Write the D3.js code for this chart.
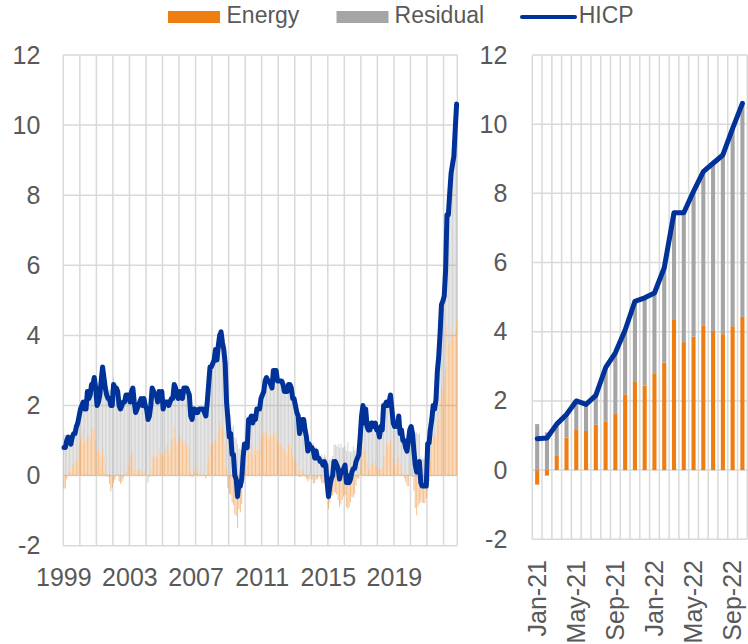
<!DOCTYPE html>
<html><head><meta charset="utf-8">
<script src="https://cdn.jsdelivr.net/npm/d3@7"></script>
<style>
html,body{margin:0;padding:0;background:#fff;}
svg text{font-family:"Liberation Sans",Arial,sans-serif;fill:#595959;}
</style></head><body>
<svg id="chart" width="748" height="644"></svg>
<script>
// Monthly, Jan-1999 .. Oct-2022 (annual % change, HICP)
const hicp = [
0.8,0.8,1.0,1.1,1.0,0.9,1.1,1.2,1.2,1.4,1.5,1.7,
1.9,2.0,2.1,1.9,1.9,2.4,2.2,2.3,2.6,2.6,2.8,2.5,
2.0,2.1,2.3,2.7,3.1,2.8,2.5,2.3,2.2,2.2,2.0,2.0,
2.6,2.5,2.5,2.4,2.0,1.9,2.0,2.1,2.1,2.3,2.3,2.3,
2.1,2.4,2.5,2.1,1.8,1.9,2.0,2.1,2.2,2.0,2.2,2.0,
1.9,1.6,1.7,2.0,2.5,2.4,2.3,2.3,2.1,2.4,2.2,2.4,
1.9,2.1,2.1,2.1,2.0,2.1,2.2,2.2,2.6,2.5,2.3,2.2,
2.4,2.3,2.2,2.5,2.5,2.5,2.4,2.3,1.7,1.6,1.9,1.9,
1.8,1.8,1.9,1.9,1.9,1.9,1.8,1.7,2.1,2.6,3.1,3.1,
3.2,3.3,3.6,3.3,3.7,4.0,4.1,3.8,3.6,3.2,2.1,1.6,
1.1,1.2,0.6,0.6,0.0,-0.1,-0.6,-0.2,-0.3,-0.1,0.5,0.9,
0.9,0.8,1.6,1.6,1.7,1.5,1.7,1.6,1.9,1.9,1.9,2.2,
2.3,2.4,2.7,2.8,2.7,2.7,2.6,2.5,3.0,3.0,3.0,2.7,
2.7,2.7,2.7,2.6,2.4,2.4,2.4,2.6,2.6,2.5,2.2,2.2,
2.0,1.8,1.7,1.2,1.4,1.6,1.6,1.3,1.1,0.7,0.9,0.8,
0.8,0.7,0.5,0.7,0.5,0.5,0.4,0.4,0.3,0.4,0.3,-0.2,
-0.6,-0.3,-0.1,0.0,0.4,0.4,0.3,0.2,-0.1,0.1,0.1,0.2,
0.3,-0.2,0.0,-0.2,-0.1,0.1,0.2,0.2,0.4,0.5,0.6,1.1,
1.7,2.0,1.5,1.9,1.4,1.3,1.3,1.5,1.5,1.4,1.5,1.3,
1.3,1.1,1.4,1.3,2.0,2.0,2.1,2.0,2.1,2.3,1.9,1.5,
1.4,1.5,1.4,1.7,1.2,1.3,1.0,1.0,0.8,0.7,1.0,1.3,
1.4,1.2,0.7,0.3,0.1,0.3,0.4,-0.2,-0.3,-0.3,-0.3,-0.3,
0.91,0.93,1.33,1.61,2.0,1.9,2.16,2.96,3.39,4.05,4.88,4.98,
5.12,5.85,7.44,7.44,8.06,8.63,8.87,9.11,9.88,10.6
];
// Energy contribution (percentage points)
const energy = [
-0.38,-0.36,-0.11,0.12,0.09,0.14,0.27,0.36,0.44,0.41,0.58,0.88,
1.05,1.2,1.35,0.93,1.02,1.23,1.13,1.05,1.36,1.34,1.34,0.99,
0.7,0.74,0.5,0.59,0.76,0.55,0.28,0.05,-0.03,-0.25,-0.45,-0.35,
-0.2,-0.12,0.0,0.05,-0.17,-0.24,-0.18,-0.1,0.02,0.14,0.12,0.29,
0.52,0.67,0.65,0.19,0.01,0.13,0.16,0.23,0.13,0.06,0.12,0.16,
0.0,-0.19,-0.03,0.18,0.58,0.5,0.51,0.56,0.5,0.75,0.63,0.6,
0.56,0.69,0.79,0.92,0.62,0.85,1.06,1.04,1.35,1.09,0.9,1.0,
1.22,1.12,0.95,1.0,0.99,0.86,0.87,0.74,0.14,-0.05,0.15,0.26,
0.08,0.07,0.16,0.04,0.03,0.08,-0.01,-0.09,0.33,0.5,0.9,0.86,
0.99,0.97,1.05,0.95,1.28,1.5,1.6,1.36,1.26,0.9,0.22,-0.35,
-0.5,-0.54,-0.77,-0.84,-1.1,-1.15,-1.5,-0.97,-1.05,-0.81,-0.23,0.17,
0.38,0.31,0.69,0.87,0.88,0.59,0.78,0.59,0.74,0.76,0.72,1.06,
1.18,1.28,1.28,1.23,1.1,1.07,1.16,1.08,1.22,1.22,1.21,0.96,
0.92,0.95,0.85,0.81,0.73,0.61,0.61,0.89,0.91,0.8,0.57,0.52,
0.39,0.39,0.17,-0.04,-0.02,0.16,0.16,-0.03,-0.09,-0.17,-0.11,0.0,
-0.12,-0.23,-0.21,-0.12,-0.1,0.01,-0.1,-0.2,-0.23,-0.2,-0.25,-0.63,
-0.95,-0.77,-0.58,-0.56,-0.47,-0.49,-0.54,-0.7,-0.9,-0.82,-0.7,-0.6,
-0.55,-0.9,-0.95,-0.9,-0.76,-0.6,-0.63,-0.53,-0.28,-0.08,-0.1,0.24,
0.77,0.88,0.7,0.72,0.43,0.18,0.21,0.38,0.37,0.29,0.45,0.28,
0.21,0.2,0.19,0.25,0.58,0.58,0.9,0.87,0.9,1.02,0.86,0.52,
0.26,0.34,0.5,0.5,0.36,0.09,0.05,-0.06,-0.17,-0.29,-0.3,0.02,
0.18,-0.03,-0.43,-0.92,-1.13,-0.88,-0.8,-0.74,-0.78,-0.78,-0.79,-0.66,
-0.42,-0.16,0.41,0.94,1.16,1.13,1.31,1.41,1.62,2.19,2.55,2.44,
2.78,3.11,4.34,3.70,3.86,4.17,4.02,3.93,4.16,4.43
];
const yTicks = [-2,0,2,4,6,8,10,12];
const leftYearLabels = ["1999","2003","2007","2011","2015","2019"];
const rightMonthLabels = ["Jan-21","May-21","Sep-21","Jan-22","May-22","Sep-22"];
const legendLabels = ["Energy","Residual","HICP"];
const firstYear = 1999;
const rightStartIndex = 264; // Jan-21

const colors = {energy:"#EE7E12", residual:"#A5A5A5", hicp:"#003299", grid:"#D9D9D9"};
const rows = hicp.map((h,i)=>({i, hicp:h, energy:energy[i], residual:+(h-energy[i]).toFixed(2)}));

const svg = d3.select("#chart");

function drawPanel(o){
  const data = o.rows;
  const x = d3.scaleBand().domain(data.map(d=>d.i)).range([o.x0,o.x1]).padding(0);
  const y = d3.scaleLinear().domain([-2,12]).range([o.yBottom,o.yTop]);
  const bw = x.bandwidth();
  const g = svg.append("g");
  // horizontal gridlines
  g.append("g").selectAll("line").data(yTicks).join("line")
    .attr("x1",o.x0).attr("x2",o.x1).attr("y1",d=>y(d)).attr("y2",d=>y(d))
    .attr("stroke",colors.grid).attr("stroke-width",1.5);
  // vertical gridlines
  const vlines = data.filter((d,k)=>k % o.vEvery === 0).map(d=>x(d.i)).concat([o.x1]);
  g.append("g").selectAll("line").data(vlines).join("line")
    .attr("x1",d=>d).attr("x2",d=>d).attr("y1",o.yTop).attr("y2",o.yBottom)
    .attr("stroke",colors.grid).attr("stroke-width",1.5);
  // stacked bars
  const series = d3.stack().keys(["energy","residual"]).offset(d3.stackOffsetDiverging)(data);
  const w = bw*o.barFrac;
  g.append("g").selectAll("g").data(series).join("g")
    .attr("fill",s=>colors[s.key]).attr("fill-opacity",o.barOpacity)
    .selectAll("rect").data(s=>s).join("rect")
      .attr("x",d=>x(d.data.i)+(bw-w)/2).attr("width",w)
      .attr("y",d=>y(Math.max(d[0],d[1])))
      .attr("height",d=>Math.abs(y(d[0])-y(d[1])));
  // HICP line
  const line = d3.line().x(d=>x(d.i)+bw/2).y(d=>y(d.hicp));
  g.append("path").datum(data).attr("d",line).attr("fill","none")
    .attr("stroke",colors.hicp).attr("stroke-width",o.lineWidth)
    .attr("stroke-linejoin","round").attr("stroke-linecap","round");
  // y axis
  const ya = g.append("g").attr("transform",`translate(${o.x0},0)`)
    .call(d3.axisLeft(y).tickValues(yTicks).tickSize(0).tickPadding(o.yPad).tickFormat(v=>String(v)));
  ya.select(".domain").remove();
  ya.selectAll("text").attr("font-size",25).attr("fill","#595959")
    .style("font-family","'Liberation Sans',Arial,sans-serif");
  return {x,y,bw,g};
}

// Left panel
const L = drawPanel({rows, x0:63.3, x1:457.3, yTop:55, yBottom:545.7, barFrac:0.7, barOpacity:0.5,
  lineWidth:5, vEvery:12, yPad:23});
const xYears = d3.scaleLinear().domain([0, rows.length]).range([63.3,457.3]);
const xa = L.g.append("g").attr("transform","translate(0,586)")
  .call(d3.axisBottom(xYears).tickValues(leftYearLabels.map(s=>(+s-firstYear)*12))
    .tickSize(0).tickFormat(v=>String(firstYear+v/12)));
xa.select(".domain").remove();
xa.selectAll("text").attr("y",0).attr("dy",0).attr("font-size",25).attr("fill","#595959")
  .style("font-family","'Liberation Sans',Arial,sans-serif");

// Right panel
const rRows = rows.slice(rightStartIndex);
const R = drawPanel({rows:rRows, x0:532.3, x1:747.3, yTop:55, yBottom:539.3, barFrac:0.42, barOpacity:1,
  lineWidth:5, vEvery:1, yPad:25});
const rLabelRows = rRows.filter((d,k)=>k%4===0);
R.g.append("g").selectAll("text").data(rLabelRows).join("text")
  .attr("transform",(d,k)=>`translate(${R.x(d.i)+R.bw/2},560) rotate(-90)`)
  .attr("text-anchor","end").attr("dy","0.35em").attr("font-size",25)
  .text((d,k)=>rightMonthLabels[k]);

// Legend
const lg = svg.append("g");
lg.append("rect").attr("x",168).attr("y",11).attr("width",52).attr("height",12).attr("fill",colors.energy);
lg.append("text").attr("x",226.5).attr("y",23.3).attr("font-size",23).text(legendLabels[0]);
lg.append("rect").attr("x",336.5).attr("y",11).attr("width",52).attr("height",12).attr("fill",colors.residual);
lg.append("text").attr("x",394.6).attr("y",23.3).attr("font-size",23).text(legendLabels[1]);
lg.append("line").attr("x1",522).attr("x2",575).attr("y1",17).attr("y2",17)
  .attr("stroke",colors.hicp).attr("stroke-width",4).attr("stroke-linecap","round");
lg.append("text").attr("x",578.7).attr("y",23.3).attr("font-size",23).text(legendLabels[2]);
</script>
</body></html>
